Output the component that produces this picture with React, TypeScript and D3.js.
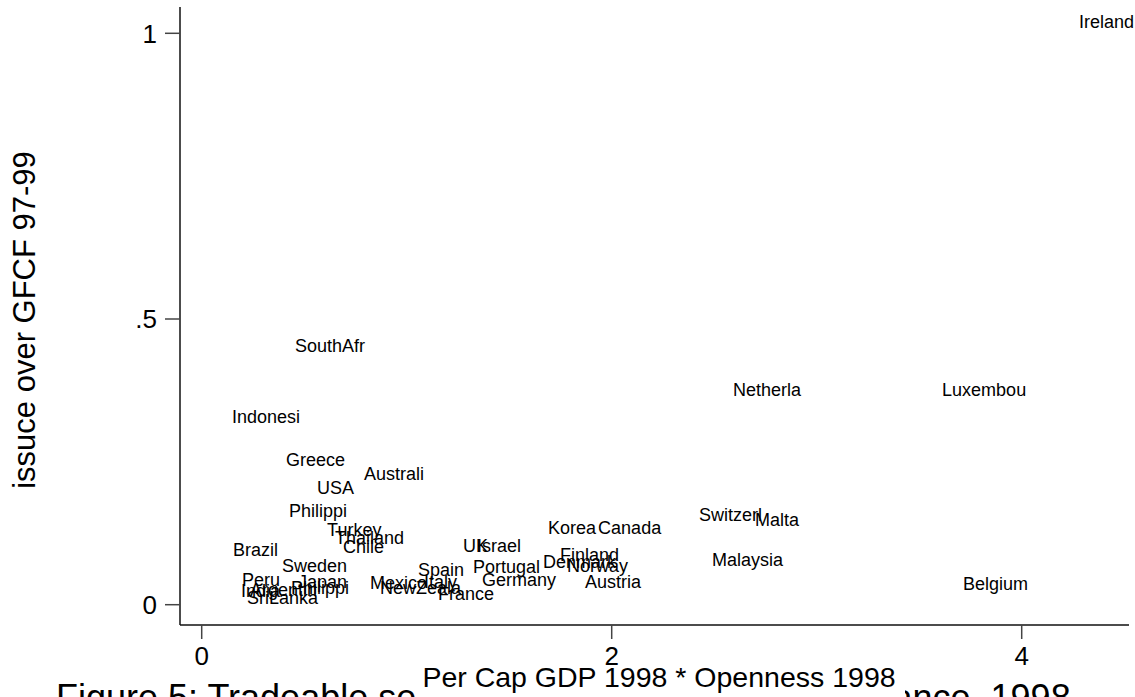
import React from "react";
import * as d3 from "d3";

// Country labels (8-character abbreviations) and their coordinates
const countries = [
  "Ireland", "SouthAfr", "Indonesi", "Netherla", "Luxembou", "Greece", "Australi", "USA",
  "Philippi", "Turkey", "Thailand", "Chile", "Brazil", "Sweden", "Peru", "Japan",
  "Philippi", "India", "Argentin", "SriLanka", "Mexico", "NewZeala", "Italy", "Spain",
  "France", "UK", "Israel", "Portugal", "Germany", "Korea", "Canada", "Denmark",
  "Finland", "Norway", "Austria", "Switzerl", "Malta", "Malaysia", "Belgium",
];

// Per Cap GDP 1998 * Openness 1998
const gdpOpenness = [
  4.265, 0.44, 0.133, 2.577, 3.597, 0.397, 0.777, 0.548,
  0.411, 0.597, 0.636, 0.675, 0.138, 0.377, 0.182, 0.455,
  0.421, 0.177, 0.221, 0.206, 0.806, 0.855, 1.07, 1.04,
  1.138, 1.26, 1.328, 1.309, 1.353, 1.675, 1.919, 1.65,
  1.733, 1.767, 1.855, 2.411, 2.684, 2.475, 3.699,
];

// Equity issuance over GFCF, 1997-99
const issuance = [
  1.02, 0.453, 0.329, 0.376, 0.376, 0.253, 0.229, 0.204,
  0.164, 0.131, 0.117, 0.101, 0.097, 0.068, 0.043, 0.04,
  0.029, 0.024, 0.026, 0.013, 0.038, 0.029, 0.04, 0.062,
  0.02, 0.103, 0.103, 0.066, 0.043, 0.134, 0.134, 0.076,
  0.087, 0.068, 0.04, 0.157, 0.148, 0.078, 0.036,
];

const xTickValues = [0, 2, 4];
const yTickValues = [0, 0.5, 1];
const yTickLabels = ["0", ".5", "1"];

const xTitle = "Per Cap GDP 1998 * Openness 1998";
const yTitle = "issuce over GFCF 97-99";
const caption = "Figure 5:  Tradeable sector openness and equity issuance, 1998";

const W = 1135;
const H = 697;
const FONT = "'Liberation Sans', Arial, Helvetica, sans-serif";

export default function App() {
  const x = d3.scaleLinear().domain([0, 4]).range([201.7, 1021.7]);
  const y = d3.scaleLinear().domain([0, 1]).range([604.7, 33.3]);

  const frameLeft = 180;
  const frameRight = 1129;
  const frameTop = 7;
  const frameBottom = 625;

  const points = countries.map((name, i) => ({
    name,
    px: x(gdpOpenness[i]),
    py: y(issuance[i]),
  }));

  return (
    <svg
      width={W}
      height={H}
      viewBox={`0 0 ${W} ${H}`}
      style={{ position: "absolute", left: 0, top: 0, background: "#fff" }}
      fontFamily={FONT}
    >
      <rect x={0} y={0} width={W} height={H} fill="#fff" />

      {/* figure caption, running below the frame */}
      <text x={56} y={710} fontSize={36} fill="#000">
        {caption}
      </text>

      {/* axis lines */}
      <line x1={frameLeft} y1={frameTop} x2={frameLeft} y2={frameBottom} stroke="#111" strokeWidth={1.5} />
      <line x1={frameLeft} y1={frameBottom} x2={frameRight} y2={frameBottom} stroke="#111" strokeWidth={1.5} />

      {/* y ticks */}
      {yTickValues.map((v, i) => (
        <g key={`yt${i}`}>
          <line x1={165} x2={frameLeft} y1={y(v)} y2={y(v)} stroke="#444" strokeWidth={1.5} />
          <text x={157} y={y(v)} dy="0.36em" textAnchor="end" fontSize={26} fill="#000">
            {yTickLabels[i]}
          </text>
        </g>
      ))}

      {/* x ticks */}
      {xTickValues.map((v, i) => (
        <g key={`xt${i}`}>
          <line x1={x(v)} x2={x(v)} y1={frameBottom} y2={639} stroke="#444" strokeWidth={1.5} />
          <text x={x(v)} y={665} textAnchor="middle" fontSize={26} fill="#000">
            {String(v)}
          </text>
        </g>
      ))}

      {/* axis titles */}
      <rect x={415} y={666} width={490} height={31} fill="#fff" />
      <text x={659} y={687} textAnchor="middle" fontSize={28.5} fill="#000">
        {xTitle}
      </text>
      <text
        transform={`translate(35, 320) rotate(-90)`}
        textAnchor="middle"
        fontSize={31}
        fill="#000"
      >
        {yTitle}
      </text>

      {/* country labels placed at 3 o'clock of each point */}
      {points.map((p, i) => (
        <text key={`c${i}`} x={p.px + 3} y={p.py} dy="0.35em" fontSize={18} fill="#000">
          {p.name}
        </text>
      ))}
    </svg>
  );
}
